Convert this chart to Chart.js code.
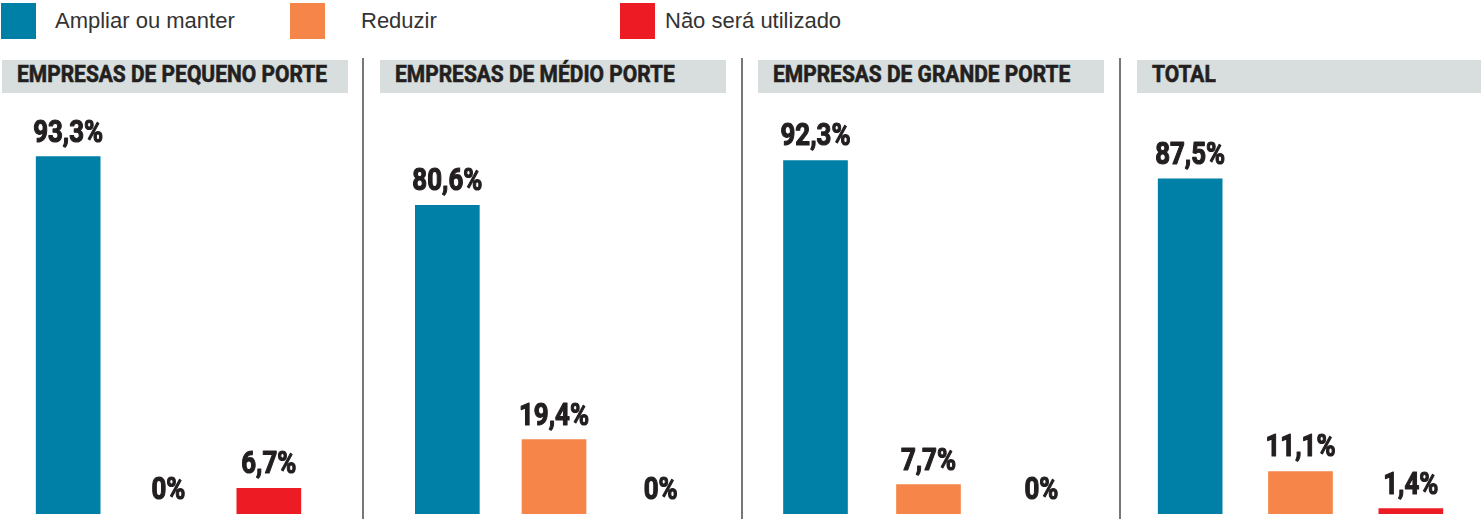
<!DOCTYPE html>
<html lang="pt">
<head>
<meta charset="utf-8">
<script src="https://cdn.jsdelivr.net/npm/chart.js@4"></script>
<style>
  body { margin: 0; width: 1481px; height: 519px; background: #fff; position: relative; overflow: hidden; }
  .legend-box { position: absolute; top: 3px; width: 35px; height: 36px; }
  .legend-text { position: absolute; top: 8px; font: 22px "Liberation Sans", Arial, sans-serif; color: #333; line-height: 26px; white-space: nowrap; }
  .strip { position: absolute; top: 60px; height: 33px; background: #d7dedd; }
  .strip span { position: absolute; left: 15px; top: 1px; line-height: 32px; white-space: nowrap; font: bold 23px Roboto, "DejaVu Sans Condensed", sans-serif; color: #231f20; -webkit-text-stroke: 0.6px #231f20; transform-origin: left center; }
  .sep { position: absolute; top: 58px; width: 2px; height: 461px; background: #777; }
  .panel { position: absolute; top: 95px; height: 424px; }
</style>
</head>
<body>
<script>
// Categories and values
const categories = ['Ampliar ou manter', 'Reduzir', 'Não será utilizado'];
const panels = ['EMPRESAS DE PEQUENO PORTE', 'EMPRESAS DE MÉDIO PORTE', 'EMPRESAS DE GRANDE PORTE', 'TOTAL'];
const ampliar = [93.3, 80.6, 92.3, 87.5];
const reduzir = [0, 19.4, 7.7, 11.1];
const naoUtilizado = [6.7, 0, 0, 1.4];

const colors = ['#0080a7', '#f58549', '#ed1c24'];

// layout (pixels)
const legendBoxX = [1, 290, 620];
const legendTextX = [55, 361, 665];
const stripX = [[2, 346], [380, 346], [758, 346], [1137, 344]];
const sepX = [362, 741, 1119];
const canvasX = [[18, 301], [394, 320], [759, 339], [1135, 331]];

// Legend
categories.forEach((c, i) => {
    const box = document.createElement('div');
    box.className = 'legend-box';
    box.style.left = legendBoxX[i] + 'px';
    box.style.background = colors[i];
    document.body.appendChild(box);
    const t = document.createElement('div');
    t.className = 'legend-text';
    t.style.left = legendTextX[i] + 'px';
    t.textContent = c;
    document.body.appendChild(t);
});

// Header strips and separators
const titleSpans = [];
panels.forEach((p, i) => {
    const s = document.createElement('div');
    s.className = 'strip';
    s.style.left = stripX[i][0] + 'px';
    s.style.width = stripX[i][1] + 'px';
    const sp = document.createElement('span');
    sp.textContent = p;
    s.appendChild(sp);
    document.body.appendChild(s);
    titleSpans.push(sp);
});
// condense the header font so the first title is ~310px wide
const titleScale = 310 / titleSpans[0].getBoundingClientRect().width;
titleSpans.forEach(sp => sp.style.transform = 'scaleX(' + titleScale + ')');

sepX.forEach(x => {
    const d = document.createElement('div');
    d.className = 'sep';
    d.style.left = x + 'px';
    document.body.appendChild(d);
});

// value labels above bars (condensed heavy)
const labelFont = 'bold 31px Roboto, "DejaVu Sans Condensed", sans-serif';
const valueLabels = {
    id: 'valueLabels',
    afterDatasetsDraw(chart) {
        const ctx = chart.ctx;
        ctx.save();
        ctx.font = labelFont;
        const k = 70 / ctx.measureText('93,3%').width;
        ctx.fillStyle = '#231f20';
        ctx.strokeStyle = '#231f20';
        ctx.lineWidth = 1.2;
        ctx.lineJoin = 'round';
        ctx.textAlign = 'center';
        ctx.textBaseline = 'alphabetic';
        chart.getDatasetMeta(0).data.forEach((bar, i) => {
            const v = chart.data.datasets[0].data[i];
            const txt = v === 0 ? '0%' : v.toFixed(1).replace('.', ',') + '%';
            ctx.save();
            ctx.translate(bar.x, bar.y - 15);
            ctx.scale(k, 1);
            ctx.fillText(txt, 0, 0);
            ctx.strokeText(txt, 0, 0);
            ctx.restore();
        });
        ctx.restore();
    }
};

panels.forEach((p, i) => {
    const wrap = document.createElement('div');
    wrap.className = 'panel';
    wrap.style.left = canvasX[i][0] + 'px';
    wrap.style.width = canvasX[i][1] + 'px';
    const cv = document.createElement('canvas');
    wrap.appendChild(cv);
    document.body.appendChild(wrap);

    new Chart(cv, {
        type: 'bar',
        data: {
            labels: categories,
            datasets: [{
                label: p,
                data: [ampliar[i], reduzir[i], naoUtilizado[i]],
                backgroundColor: c => c.raw === 0 ? 'rgba(0,0,0,0)' : colors[c.dataIndex],
                barThickness: 64,
                borderWidth: 0
            }]
        },
        options: {
            responsive: true,
            maintainAspectRatio: false,
            animation: false,
            layout: { padding: { top: 36, bottom: 5, left: 0, right: 0 } },
            plugins: {
                legend: { display: false },
                tooltip: { enabled: false }
            },
            scales: {
                x: { display: false },
                y: { display: false, min: 0, max: 100 }
            }
        },
        plugins: [valueLabels]
    });
});
</script>
</body>
</html>
